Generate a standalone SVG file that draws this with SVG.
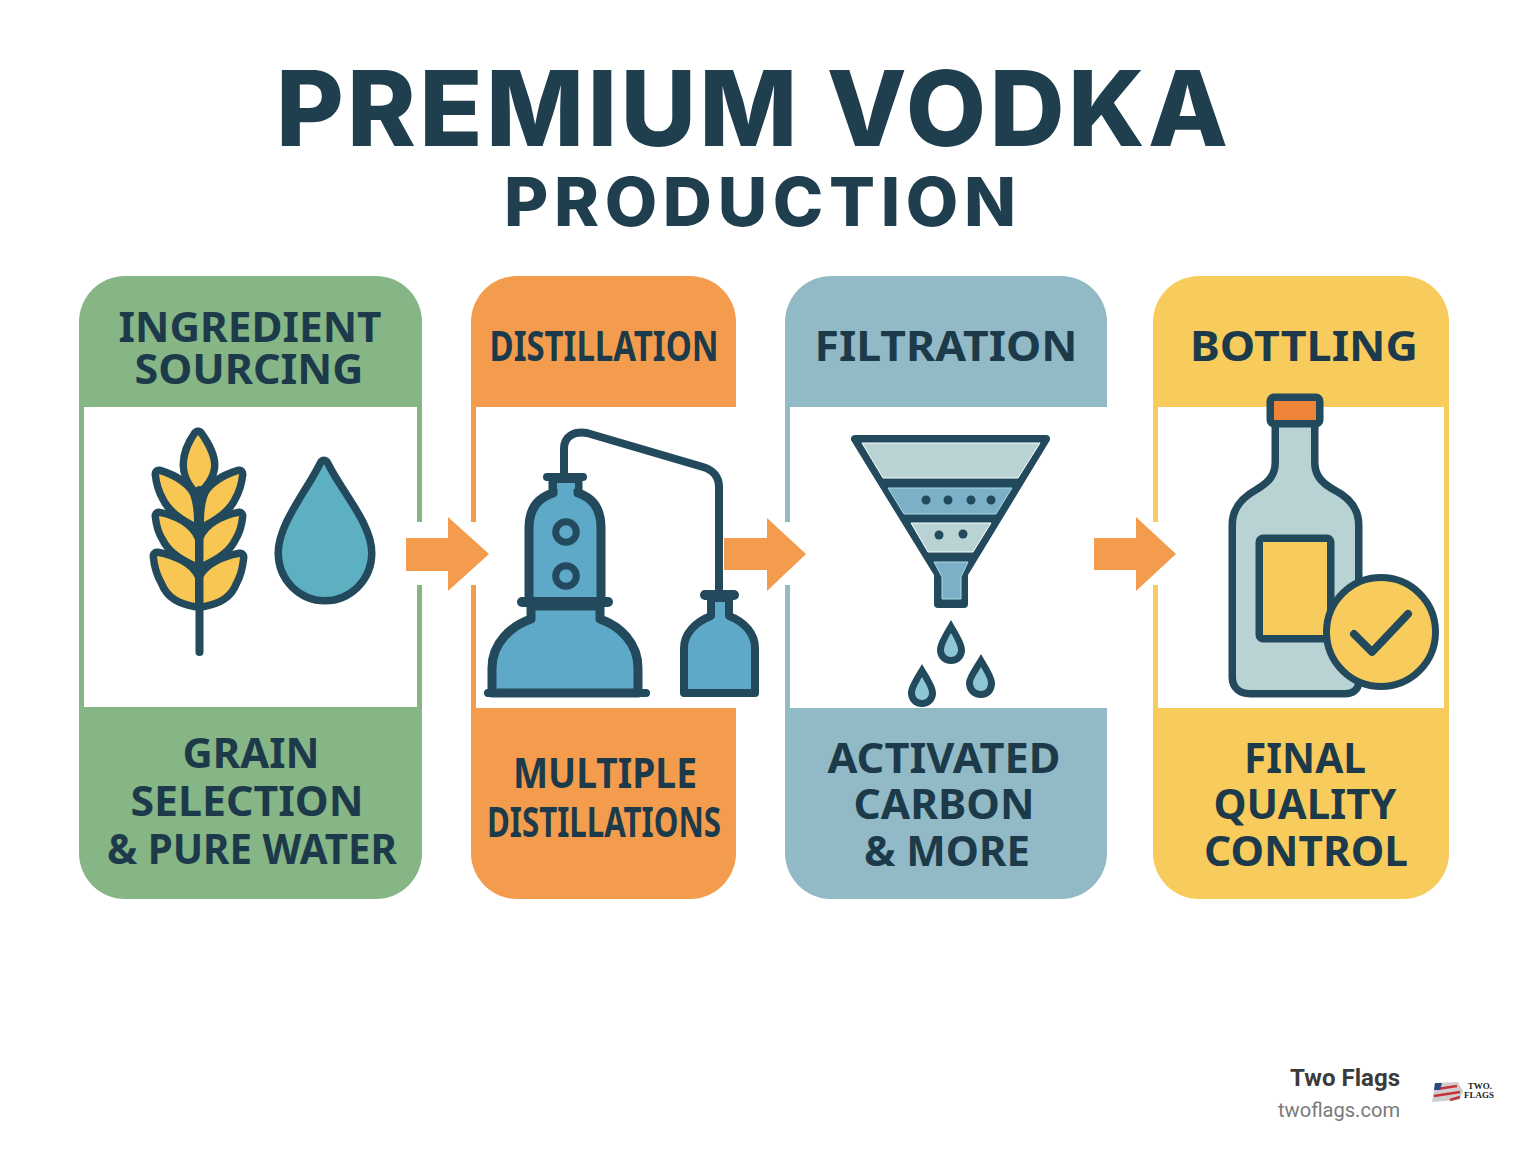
<svg xmlns="http://www.w3.org/2000/svg" width="1536" height="1154" viewBox="0 0 1536 1154">
<style>
text{font-family:"Inter","Liberation Sans",sans-serif;font-weight:800;fill:#203f4e;text-anchor:middle}
.l{font-family:"Noto Sans","Liberation Sans",sans-serif;font-weight:700;font-size:42px;fill:#1c3a49}
.o{fill:none;stroke:#224a5c;stroke-linejoin:round;stroke-linecap:round}
.s{stroke:#224a5c;stroke-width:15;stroke-linejoin:round;paint-order:stroke}
.c{stroke:#224a5c;fill:#5ea8c8;stroke-linejoin:round;stroke-linecap:round}
.arrow{fill:#f39c4d}
.y{fill:#f8c653}
.d{fill:#224a5c}
</style>
<rect width="1536" height="1154" fill="#fff"/>
<g id="title">
<text x="752" y="146" font-size="104" textLength="952">PREMIUM VODKA</text>
<text x="760" y="226" font-size="68" textLength="512">PRODUCTION</text>
</g>
<g id="node-sourcing">
<rect x="79" y="276" width="343" height="623" rx="46" fill="#86b586"/>
<rect x="84" y="407" width="333" height="300" fill="#fff"/>
<rect x="415" y="522" width="9" height="63" fill="#fff"/>
<text class="l" x="250" y="342" textLength="263" lengthAdjust="spacingAndGlyphs">INGREDIENT</text>
<text class="l" x="249" y="384" textLength="229" lengthAdjust="spacingAndGlyphs">SOURCING</text>
<text class="l" x="251" y="768" textLength="137" lengthAdjust="spacingAndGlyphs">GRAIN</text>
<text class="l" x="247" y="816" textLength="233" lengthAdjust="spacingAndGlyphs">SELECTION</text>
<text class="l" x="252" y="864" textLength="290" lengthAdjust="spacingAndGlyphs">&amp; PURE WATER</text>
<path class="s y" d="M198 435C190 446 187 457 187 465C187 475 192 483 198 490C204 483 211 475 211 465C211 457 206 446 198 435Z"/>
<path class="s y" d="M159 474C175 479 186 487 190 495C193 503 194 512 194 522C180 515 170 506 166 497C162 490 160 483 159 474Z"/>
<path class="s y" d="M239 474C223 479 212 487 208 495C205 503 204 512 204 522C218 515 228 506 232 497C236 490 238 483 239 474Z"/>
<path class="s y" d="M159 516C175 519 190 527 195 540V562C180 555 170 547 166 538C162 532 160 525 159 516Z"/>
<path class="s y" d="M239 516C223 519 208 527 203 540V562C218 555 228 547 232 538C236 532 238 525 239 516Z"/>
<path class="s y" d="M157 556C175 559 190 567 195 578V603C180 600 170 595 165 582C161 575 158 567 157 556Z"/>
<path class="s y" d="M240 557C222 560 208 568 203 578V603C218 600 228 595 233 582C237 575 239 567 240 557Z"/>
<path class="o" stroke-width="8" d="M199.5 490V652"/>
<path class="s" fill="#5cb0c2" d="M324 464C310 493 282 525 282 553C282 578 302 597 325 597C348 597 368 578 368 553C368 525 338 493 324 464Z"/>
</g>
<g id="node-distillation">
<rect x="471" y="276" width="265" height="623" rx="46" fill="#f39c4d"/>
<rect x="476" y="407" width="260" height="301" fill="#fff"/>
<rect x="469" y="522" width="9" height="63" fill="#fff"/>
<text class="l" x="604" y="361" font-size="38" textLength="229" lengthAdjust="spacingAndGlyphs">DISTILLATION</text>
<text class="l" x="605" y="788" textLength="184" lengthAdjust="spacingAndGlyphs">MULTIPLE</text>
<text class="l" x="604" y="837" font-size="38" textLength="234" lengthAdjust="spacingAndGlyphs">DISTILLATIONS</text>
<path class="o" stroke-width="8" d="M564 476V449C564 436 574 431 587 433L703 467C713 470 719 477 719 487V596"/>
<path class="c" stroke-width="9" d="M553 480H578V493C594 498 601 510 601 528V602H529V528C529 510 537 498 553 493Z"/>
<path class="o" stroke-width="8" d="M547 477H583"/>
<rect x="557" y="483" width="18" height="6" fill="#5ea8c8"/>
<circle class="c" cx="566" cy="532" r="10.3" stroke-width="7"/>
<circle class="c" cx="566" cy="576" r="10.3" stroke-width="7"/>
<path class="c" stroke-width="9" d="M531 606H600V619C620 626 638 643 638 668V693H492V668C492 643 511 626 531 619Z"/>
<path class="o" stroke-width="10" d="M522 602H608"/>
<path class="o" stroke-width="8" d="M488 693H646"/>
<path class="c" stroke-width="8" d="M711 598H729V616C745 622 755 634 755 648V693H684V648C684 634 695 622 711 616Z"/>
<path class="o" stroke-width="10" d="M705 595H734"/>
</g>
<g id="node-filtration">
<rect x="785" y="276" width="322" height="623" rx="46" fill="#92bac6"/>
<rect x="790" y="407" width="317" height="301" fill="#fff"/>
<rect x="783" y="522" width="9" height="63" fill="#fff"/>
<text class="l" x="946" y="361" textLength="263" lengthAdjust="spacingAndGlyphs">FILTRATION</text>
<text class="l" x="944" y="773" textLength="233" lengthAdjust="spacingAndGlyphs">ACTIVATED</text>
<text class="l" x="944" y="819" textLength="181" lengthAdjust="spacingAndGlyphs">CARBON</text>
<text class="l" x="947" y="866" textLength="166" lengthAdjust="spacingAndGlyphs">&amp; MORE</text>
<path class="d" stroke="#224a5c" stroke-width="8" stroke-linejoin="round" d="M855 439H1046L964 574V604H938V574Z"/>
<path fill="#b9d3d5" stroke="#fff" d="M862 443H1040L1018 478H883Z"/>
<path fill="#7cb0c6" stroke="#a8dbe8" d="M888 488H1012L996 514H904Z"/>
<path fill="#b9d3d5" stroke="#fff" d="M911 523H991L973 552H928Z"/>
<path fill="#7cb0c6" stroke="#a8dbe8" d="M934 562H968L961 577V599H942V577Z"/>
<g class="d"><circle cx="926" cy="500" r="4.5"/><circle cx="948" cy="500" r="4.5"/><circle cx="971" cy="500" r="4.5"/><circle cx="991" cy="500" r="4.5"/><circle cx="939" cy="535" r="4.5"/><circle cx="963" cy="534" r="4.5"/></g>
<path class="d" d="M951 620C944 632 937 643 937 650C937 658 943 664 951 664C959 664 965 658 965 650C965 643 958 632 951 620Z"/>
<path fill="#8ec6d6" d="M951 633C947 640 944 646 944 650C944 654 947 657 951 657C955 657 958 654 958 650C958 646 955 640 951 633Z"/>
<path class="d" d="M922 664C915 676 908 686 908 693C908 701 914 707 922 707C930 707 936 701 936 693C936 686 929 676 922 664Z"/>
<path fill="#8ec6d6" d="M922 677C918 684 915 689 915 693C915 697 918 700 922 700C926 700 929 697 929 693C929 689 926 684 922 677Z"/>
<path class="d" d="M981 654C974 666 966 677 966 683C966 692 973 698 981 698C989 698 995 692 995 683C995 677 988 666 981 654Z"/>
<path fill="#8ec6d6" d="M981 667C977 674 973 679 973 683C973 688 977 691 981 691C985 691 988 688 988 683C988 679 985 674 981 667Z"/>
</g>
<g id="node-bottling">
<rect x="1153" y="276" width="296" height="623" rx="46" fill="#f8cc5c"/>
<rect x="1158" y="407" width="286" height="301" fill="#fff"/>
<rect x="1151" y="522" width="9" height="63" fill="#fff"/>
<text class="l" x="1304" y="361" textLength="228" lengthAdjust="spacingAndGlyphs">BOTTLING</text>
<text class="l" x="1305" y="773" textLength="122" lengthAdjust="spacingAndGlyphs">FINAL</text>
<text class="l" x="1305" y="819" textLength="183" lengthAdjust="spacingAndGlyphs">QUALITY</text>
<text class="l" x="1306" y="866" textLength="204" lengthAdjust="spacingAndGlyphs">CONTROL</text>
<path class="s" fill="#b9d3d5" d="M1279 425V462C1279 478 1270 486 1258 493C1245 500 1236 510 1236 525V677C1236 686 1242 690 1250 690H1345C1351 690 1355 687 1355 682V525C1355 510 1346 500 1332 493C1320 486 1311 478 1311 462V425Z"/>
<rect class="s" x="1274" y="401" width="42" height="19" fill="#ee8437"/>
<rect class="s" x="1263" y="542" width="64" height="93" fill="#f8cc5c"/>
<circle cx="1381" cy="632" r="54.5" fill="#f8cc5c" stroke="#224a5c" stroke-width="7"/>
<path class="o" stroke-width="8" d="M1354 634L1372 652L1408 614"/>
</g>
<g id="connectors">
<path class="arrow" d="M406 538H448V517L489 554L448 591V571H406Z"/>
<path class="arrow" d="M724 538H767V518L806 554L767 591V570H724Z"/>
<path class="arrow" d="M1094 538H1136V517L1176 554L1136 591V570H1094Z"/>
</g>
<g id="footer">
<text x="1400" y="1086" style="font-family:Roboto,sans-serif;text-anchor:end;font-weight:700;font-size:24px;fill:#3b3b3b" textLength="110" lengthAdjust="spacingAndGlyphs">Two Flags</text>
<text x="1400" y="1117" style="font-family:Roboto,sans-serif;text-anchor:end;font-weight:400;font-size:21px;fill:#7a7a7a" textLength="122" lengthAdjust="spacingAndGlyphs">twoflags.com</text>
<path d="M1435 1083L1458 1082L1463 1091L1459 1100L1432 1102Z" fill="#cfcfcf"/>
<path d="M1437 1089L1457 1086M1434 1096L1460 1092M1450 1100L1460 1097" stroke="#c4343a" stroke-width="2.5" fill="none"/>
<path d="M1435 1083H1442L1440 1090H1434Z" fill="#2c4a80"/>
<text x="1480" y="1089" style="font-family:'Liberation Serif',serif;font-weight:700;font-size:9px;fill:#222">TWO.</text>
<text x="1479" y="1098" style="font-family:'Liberation Serif',serif;font-weight:700;font-size:9px;fill:#222">FLAGS</text>
</g>
</svg>
